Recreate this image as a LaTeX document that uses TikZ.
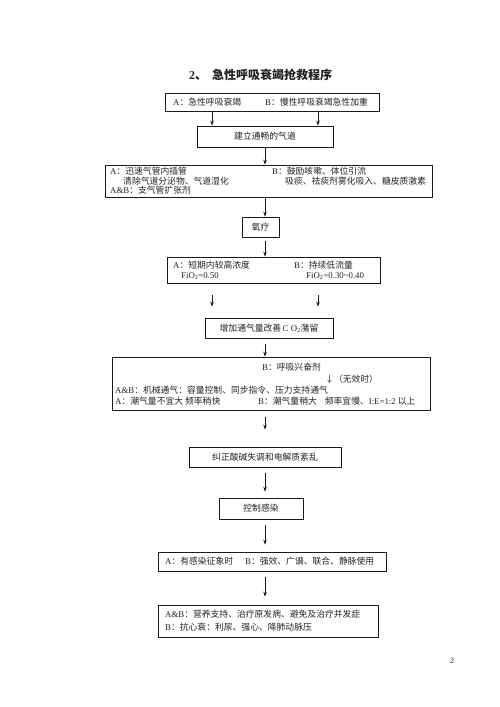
\documentclass[tikz,border=0pt]{standalone}
\usepackage{fontspec}
\setmainfont{Noto Sans CJK SC}
\newfontfamily\enfont{Liberation Serif}
\usepackage{tikz}
\usetikzlibrary{arrows.meta,positioning}
\definecolor{LineGray}{HTML}{1A1A1A}
\definecolor{TextGray}{HTML}{222222}
\newcommand{\en}[1]{{\enfont #1}}
\tikzset{
  stepbox/.style={draw=LineGray,line width=0.8pt,inner sep=0pt},
  boxtxt/.style={font=\fontsize{8.8}{10}\selectfont,text=TextGray,inner sep=0pt},
  lefttxt/.style={boxtxt,anchor=west},
  arr/.style={draw=LineGray,line width=0.6pt,-{Stealth[length=5pt,width=3.6pt]}}}

\begin{document}
\begin{tikzpicture}[x=1pt,y=-1pt]
  \useasboundingbox (0,0) rectangle (500,707);
  \node[font=\fontsize{12}{14}\selectfont\bfseries,text=TextGray,anchor=west,inner sep=0pt] (title) at (189,75) {\en{2}、\hspace{5pt}急性呼吸衰竭抢救程序};
  % boxes
  \node[stepbox,minimum width=214pt,minimum height=18pt] (b1) at (272,102) {};
  \node[stepbox,boxtxt,minimum width=136pt,minimum height=21pt] (b2) at (265,136.5) {建立通畅的气道};
  \node[stepbox,minimum width=327pt,minimum height=32pt] (b3) at (268.5,181) {};
  \node[stepbox,boxtxt,minimum width=37pt,minimum height=20pt] (b4) at (260.5,227) {氧疗};
  \node[stepbox,minimum width=213pt,minimum height=26pt] (b5) at (273.5,270) {};
  \node[stepbox,boxtxt,minimum width=128pt,minimum height=20pt] (b6) at (269,328) {增加通气量改善\,\en{C O\textsubscript{2}}潴留};
  \node[stepbox,minimum width=318pt,minimum height=53pt] (b7) at (271,383.5) {};
  \node[stepbox,boxtxt,minimum width=152pt,minimum height=20pt] (b8) at (265,457) {纠正酸碱失调和电解质紊乱};
  \node[stepbox,boxtxt,minimum width=84pt,minimum height=21pt] (b9) at (261,508.5) {控制感染};
  \node[stepbox,minimum width=228pt,minimum height=19pt] (b10) at (272,561.5) {};
  \node[stepbox,minimum width=220pt,minimum height=32pt] (b11) at (268,621) {};
  % box texts
  \node[lefttxt] (t1a) at (173,102) {\en{A}：急性呼吸衰竭};
  \node[lefttxt] (t1b) at (265,102) {\en{B}：慢性呼吸衰竭急性加重};
  \node[lefttxt] (t3a) at (110,171) {\en{A}：迅速气管内插管};
  \node[lefttxt] (t3b) at (123,181) {清除气道分泌物、气道湿化};
  \node[lefttxt] (t3c) at (110,190.5) {\en{A\&B}：支气管扩张剂};
  \node[lefttxt] (t3d) at (272,171) {\en{B}：鼓励咳嗽、体位引流};
  \node[lefttxt] (t3e) at (285,181) {吸痰、祛痰剂雾化吸入、糖皮质激素};
  \node[lefttxt] (t5a) at (173,265) {\en{A}：短期内较高浓度};
  \node[lefttxt] (t5b) at (181,276) {\en{FiO\textsubscript{2}=0.50}};
  \node[lefttxt] (t5c) at (294,265) {\en{B}：持续低流量};
  \node[lefttxt] (t5d) at (306,276) {\en{FiO\textsubscript{2}=0.30\textasciitilde0.40}};
  \node[lefttxt] (t7a) at (262,367) {\en{B}：呼吸兴奋剂};
  \node[lefttxt] (t7b) at (325,379) {↓（无效时）};
  \node[lefttxt] (t7c) at (115,390) {\en{A\&B}：机械通气：容量控制、同步指令、压力支持通气};
  \node[lefttxt] (t7d) at (115,401) {\en{A}：潮气量不宜大\ 频率稍快};
  \node[lefttxt] (t7e) at (258,401) {\en{B}：潮气量稍大\hspace{8pt}频率宜慢、\en{I:E=1:2} 以上};
  \node[lefttxt] (t10) at (165,561.5) {\en{A}：有感染征象时\hspace{12pt}\en{B}：强效、广谱、联合、静脉使用};
  \node[lefttxt] (t11a) at (165,614.5) {\en{A\&B}：营养支持、治疗原发病、避免及治疗并发症};
  \node[lefttxt] (t11b) at (165,627.5) {\en{B}：抗心衰：利尿、强心、降肺动脉压};
  \node[boxtxt,font=\fontsize{8}{9}\selectfont] (pagenum) at (452,661) {\en{2}};
  % Arrows
  \coordinate (colA) at (212,0);
  \coordinate (colB) at (318,0);
  \coordinate (colM) at (265,0);
  \draw[arr] (b1.south -| colA) -- (b2.north -| colA);
  \draw[arr] (b1.south -| colB) -- (b2.north -| colB);
  \draw[arr] (b2.south -| colM) -- (b3.north -| colM);
  \draw[arr] (b3.south -| colM) -- (b4.north -| colM);
  \draw[arr,shorten <=4pt] (b4.south -| colM) -- (b5.north -| colM);
  \draw[arr,shorten <=12pt,shorten >=11pt] (b5.south -| colA) -- (b6.north -| colA);
  \draw[arr,shorten <=12pt,shorten >=11pt] (b5.south -| colB) -- (b6.north -| colB);
  \draw[arr,shorten <=6pt] (b6.south -| colM) -- (b7.north -| colM);
  \draw[arr,shorten <=7pt,shorten >=17pt] (b7.south -| colM) -- (b8.north -| colM);
  \draw[arr,shorten <=6pt,shorten >=6pt] (b8.south -| colM) -- (b9.north -| colM);
  \draw[arr,shorten <=6pt,shorten >=7pt] (b9.south -| colM) -- (b10.north -| colM);
  \draw[arr,shorten <=6pt,shorten >=8pt] (b10.south -| colM) -- (b11.north -| colM);
\end{tikzpicture}
\end{document}
